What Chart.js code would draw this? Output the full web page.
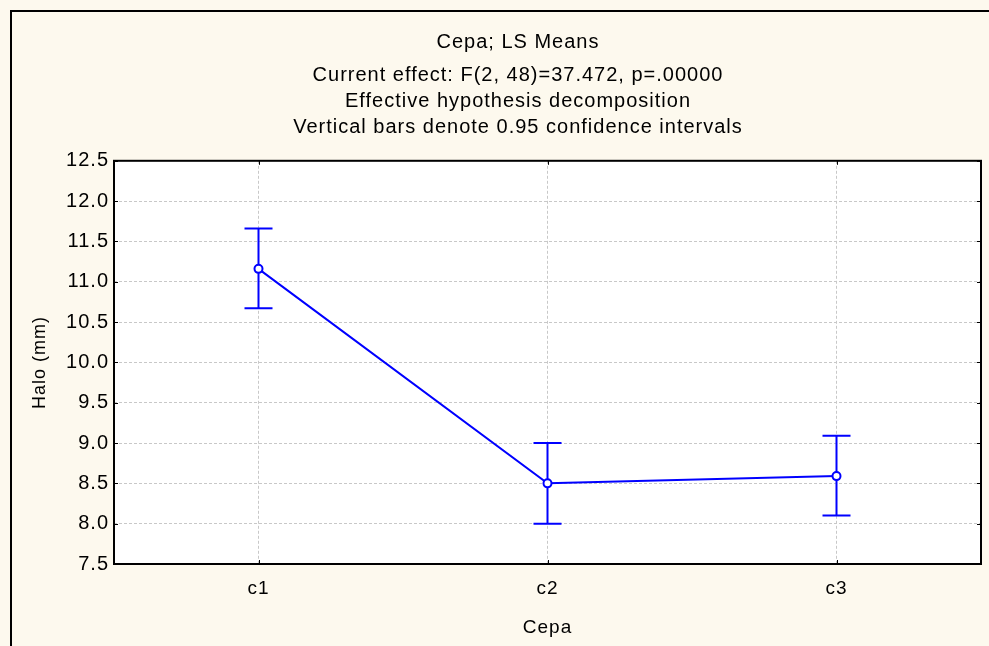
<!DOCTYPE html>
<html>
<head>
<meta charset="utf-8">
<script src="https://cdn.jsdelivr.net/npm/chart.js@4.4.0/dist/chart.umd.min.js"></script>
<style>
  html, body { margin: 0; padding: 0; background: #fdf9ee; }
  #wrap { width: 989px; height: 646px; }
</style>
</head>
<body>
<div id="wrap"><canvas id="mycanvas"></canvas></div>
<script>
// data
var categories = ['c1', 'c2', 'c3'];
var means = [11.16, 8.50, 8.59];
var ciLow = [10.67, 8.00, 8.10];
var ciHigh = [11.66, 9.00, 9.09];
var yTicks = [7.5, 8.0, 8.5, 9.0, 9.5, 10.0, 10.5, 11.0, 11.5, 12.0, 12.5];

var blue = '#0000ff';
var font = 'Liberation Sans, Arial, sans-serif';

// cream page, white plot, frame and inward ticks
var framePlugin = {
	id: 'frame',
	afterLayout: function(chart) {
		// titles sit a little right of the page centre in the original
		chart.boxes.forEach(function(b) {
			if (b.position === 'top' && !b.isHorizontal === false && !b.axis) {
				b.left = 55;
			}
		});
	},
	beforeDraw: function(chart) {
		var c = chart.ctx, a = chart.chartArea;
		c.save();
		c.fillStyle = '#fdf9ee';
		c.fillRect(0, 0, chart.width, chart.height);
		c.strokeStyle = '#000';
		c.lineWidth = 2;
		c.beginPath();
		c.moveTo(11, chart.height);
		c.lineTo(11, 11);
		c.lineTo(chart.width, 11);
		c.stroke();
		c.fillStyle = '#fff';
		c.fillRect(a.left, a.top, a.right - a.left, a.bottom - a.top);
		c.restore();
		// the old Statistica text is spaced a bit wider
		c.letterSpacing = '1px';
	},
	afterDraw: function(chart) {
		var c = chart.ctx, a = chart.chartArea;
		var x = chart.scales.x, y = chart.scales.y;
		c.save();
		c.strokeStyle = '#000';
		c.lineWidth = 1;
		c.beginPath();
		for (var i = 0; i < y.ticks.length; i++) {
			var py = Math.round(y.getPixelForTick(i)) + 0.5;
			c.moveTo(a.left, py); c.lineTo(a.left + 4, py);
			c.moveTo(a.right, py); c.lineTo(a.right - 4, py);
		}
		for (var j = 0; j < x.ticks.length; j++) {
			var px = Math.round(x.getPixelForTick(j)) + 0.5;
			c.moveTo(px, a.bottom); c.lineTo(px, a.bottom - 4);
			c.moveTo(px, a.top); c.lineTo(px, a.top + 4);
		}
		c.stroke();
		c.lineWidth = 2;
		c.strokeRect(a.left, a.top, a.right - a.left, a.bottom - a.top);
		c.restore();
	}
};

// confidence interval whiskers
var errorBars = {
	id: 'errorBars',
	beforeDatasetsDraw: function(chart) {
		var c = chart.ctx;
		var x = chart.scales.x, y = chart.scales.y;
		c.save();
		c.strokeStyle = blue;
		c.lineWidth = 2;
		for (var i = 0; i < categories.length; i++) {
			var px = x.getPixelForValue(i);
			var lo = y.getPixelForValue(ciLow[i]);
			var hi = y.getPixelForValue(ciHigh[i]);
			c.beginPath();
			c.moveTo(px, lo); c.lineTo(px, hi);
			c.moveTo(px - 14, lo); c.lineTo(px + 14, lo);
			c.moveTo(px - 14, hi); c.lineTo(px + 14, hi);
			c.stroke();
		}
		c.restore();
	}
};

var ctx = document.getElementById('mycanvas');

var lineGraph = new Chart(ctx, {
	type: 'line',
	data: {
		labels: categories,
		datasets: [{
			data: means,
			borderColor: blue,
			borderWidth: 2,
			pointRadius: 4,
			pointBorderWidth: 2,
			pointBackgroundColor: '#fff',
			pointBorderColor: blue,
			tension: 0
		}]
	},
	options: {
		responsive: true,
		maintainAspectRatio: false,
		animation: false,
		layout: { padding: { left: 0, right: 8, top: 0, bottom: 0 } },
		plugins: {
			legend: { display: false },
			tooltip: { enabled: false },
			title: {
				display: true,
				text: 'Cepa; LS Means',
				color: '#000',
				font: { family: font, size: 20, weight: 'normal', lineHeight: 1.2 },
				padding: { top: 30, bottom: 4 }
			},
			subtitle: {
				display: true,
				text: ['Current effect: F(2, 48)=37.472, p=.00000',
					'Effective hypothesis decomposition',
					'Vertical bars denote 0.95 confidence intervals'],
				color: '#000',
				font: { family: font, size: 20, weight: 'normal', lineHeight: 1.28 },
				padding: { top: 5, bottom: 21 }
			}
		},
		scales: {
			x: {
				offset: true,
				grid: { offset: false, color: '#c8c8c8', drawTicks: false },
				border: { display: false, dash: [3, 2] },
				ticks: { color: '#000', padding: 13, font: { family: font, size: 19 } },
				title: { display: true, text: 'Cepa', color: '#000', padding: { bottom: 7 },
					font: { family: font, size: 19 } },
				afterFit: function(s) { s.height = 82; }
			},
			y: {
				min: 7.5,
				max: 12.5,
				afterBuildTicks: function(s) {
					s.ticks = yTicks.map(function(v) { return { value: v }; });
				},
				grid: { color: '#c8c8c8', drawTicks: false },
				border: { display: false, dash: [3, 2] },
				ticks: {
					color: '#000', padding: 5,
					font: { family: font, size: 20 },
					callback: function(v) { return Number(v).toFixed(1); }
				},
				title: { display: true, text: 'Halo (mm)', color: '#000', padding: { top: 29 },
					font: { family: font, size: 18 } },
				afterFit: function(s) { s.width = 114; }
			}
		}
	},
	plugins: [framePlugin, errorBars]
});
</script>
</body>
</html>
